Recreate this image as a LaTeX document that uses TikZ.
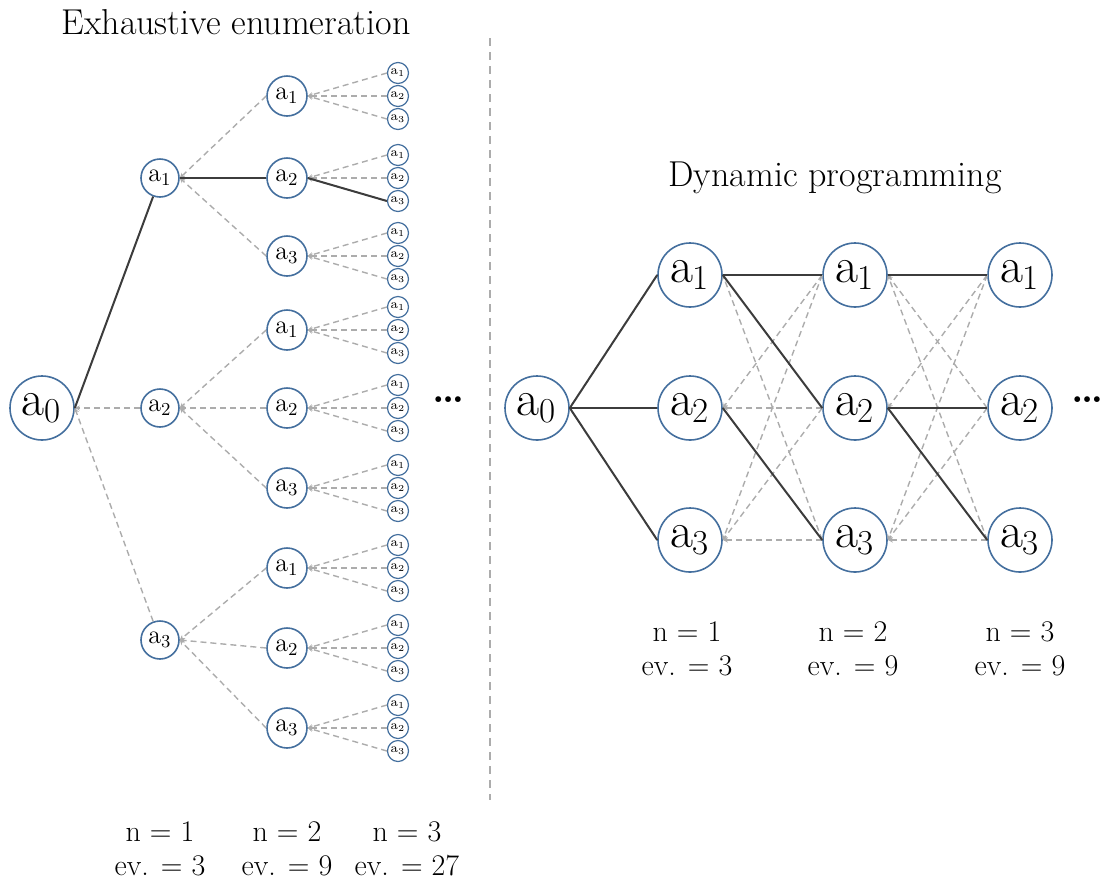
\documentclass[tikz,border=0pt]{standalone}
\usepackage{fontspec}
\usepackage{tikz}
\usetikzlibrary{arrows.meta}

\definecolor{ringblue}{RGB}{68,111,158}
\definecolor{pathgray}{RGB}{60,60,60}
\definecolor{dashgray}{RGB}{172,172,172}

\newcommand\lab[1]{a\textsubscript{#1}}

\begin{document}
\begin{tikzpicture}[x=0.5pt, y=-0.5pt,
  state/.style={circle, draw=ringblue, line width=0.8pt, fill=white, inner sep=0pt},
  bigstate/.style={state, minimum size=32pt, font=\fontsize{25}{25}\selectfont},
  midstate/.style={state, minimum size=20pt, font=\fontsize{13}{13}\selectfont},
  leafstate/.style={state, minimum size=10.5pt, line width=0.6pt, font=\fontsize{6.5}{6.5}\selectfont},
  best/.style={draw=pathgray, line width=1pt},
  other/.style={draw=dashgray, line width=0.7pt, dash pattern=on 3pt off 2pt,
    -{Stealth[length=2.5pt,width=2.5pt]}},
  title/.style={font=\fontsize{18}{22}\selectfont},
  count/.style={align=center, font=\fontsize{15}{17}\selectfont}]
  \useasboundingbox (0,0) rectangle (1108,885);

  % exhaustive tree
  \node[title] (t1) at (236,22) {Exhaustive enumeration};
  \node[bigstate] (r) at (42,408) {\lab0};
  \foreach \i/\y in {1/178, 2/408, 3/640}
    \node[midstate, minimum size=19pt] (l\i) at (160,\y) {\lab\i};
  \foreach \i/\j/\yy in {1/1/96, 1/2/178, 1/3/256, 2/1/330, 2/2/408, 2/3/488,
                         3/1/568, 3/2/648, 3/3/728} {
    \node[midstate] (l\i\j) at (287,\yy) {\lab\j};
    \foreach \k/\dy in {1/-23, 2/0, 3/23}
      \node[leafstate] (l\i\j\k) at (398,\yy+\dy) {\lab\k};
  }
  \foreach \i in {1,2,3} \foreach \j in {1,2,3} \foreach \k in {1,2,3}
    \draw[other] (l\i\j\k.west) -- (l\i\j.east);
  \foreach \i in {1,2,3} \foreach \j in {1,2,3}
    \draw[other] (l\i\j.west) -- (l\i.east);
  \draw[other] (l2) -- (r.east);
  \draw[other] (l3) -- (r.east);
  % best branch
  \draw[best] (r.east) -- (l1);
  \draw[best] (l1.east) -- (l12.west);
  \draw[best] (l12.east) -- (l123.west);
  \node[font=\fontsize{20}{20}\selectfont\bfseries] (e1) at (449,400) {\ldots};

  \node[count] (c1) at (160,849) {n = 1\\ev. = 3};
  \node[count] (c2) at (287,849) {n = 2\\ev. = 9};
  \node[count] (c3) at (407,849) {n = 3\\ev. = 27};

  \draw[dashgray, line width=0.7pt, dash pattern=on 4pt off 3pt] (490,38) -- (490,800);

  % dynamic programming
  \node[title] (t2) at (835,178) {Dynamic programming};
  \node[bigstate] (d0) at (537,408) {\lab0};
  \foreach \c/\x in {1/690, 2/855, 3/1020}
    \foreach \r/\y in {1/275, 2/408, 3/540}
      \node[bigstate] (d\c\r) at (\x,\y) {\lab\r};
  \foreach \i/\j in {1/3, 2/1, 2/2, 3/1, 3/2, 3/3}
    \draw[other] (d2\j.west) -- (d1\i.east);
  \foreach \i/\j in {1/2, 1/3, 2/1, 3/1, 3/2, 3/3}
    \draw[other] (d3\j.west) -- (d2\i.east);
  \foreach \r in {1,2,3} \draw[best] (d0.east) -- (d1\r.west);
  \draw[best] (d11.east) -- (d21.west);
  \draw[best] (d11.east) -- (d22.west);
  \draw[best] (d12.east) -- (d23.west);
  \draw[best] (d21.east) -- (d31.west);
  \draw[best] (d22.east) -- (d32.west);
  \draw[best] (d22.east) -- (d33.west);
  \node[font=\fontsize{20}{20}\selectfont\bfseries] (e2) at (1088,400) {\ldots};

  \node[count] (c4) at (687,649) {n = 1\\ev. = 3};
  \node[count] (c5) at (853,649) {n = 2\\ev. = 9};
  \node[count] (c6) at (1020,649) {n = 3\\ev. = 9};
\end{tikzpicture}
\end{document}
